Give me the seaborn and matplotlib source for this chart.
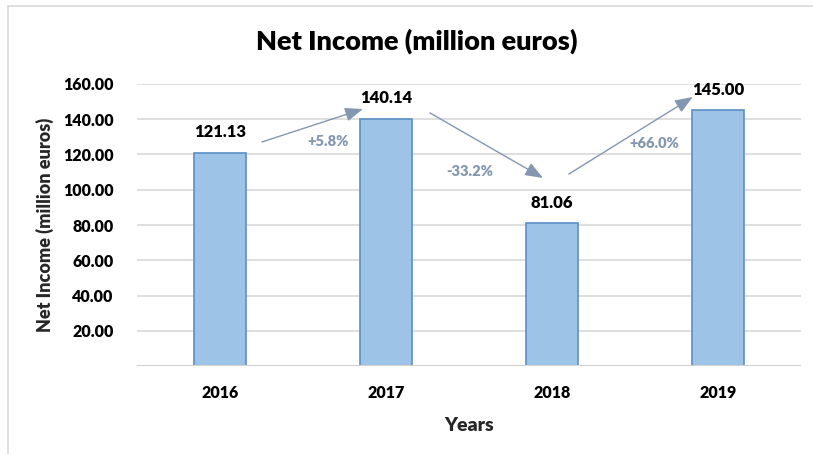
import matplotlib
matplotlib.use("Agg")
import matplotlib.pyplot as plt
from matplotlib.lines import Line2D
import seaborn as sns
import pandas as pd

years = ["2016", "2017", "2018", "2019"]
net_income = [121.13, 140.14, 81.06, 145.00]
changes = ["+5.8%", "-33.2%", "+66.0%"]
y_ticks = [20, 40, 60, 80, 100, 120, 140, 160]

sns.set_theme(style="white")
plt.rcParams["font.family"] = ["Lato", "DejaVu Sans"]

df = pd.DataFrame({"Year": years, "Income": net_income})

fig = plt.figure(figsize=(8.13, 4.54), dpi=100)
ax = fig.add_axes([0.1685, 0.1938, 0.8165, 0.6212])

sns.barplot(data=df, x="Year", y="Income", color="#9DC3E6", saturation=1,
            edgecolor="#5B8FC7", linewidth=1.2, width=0.315, ax=ax, zorder=3)

ax.set_ylim(0, 160)
ax.set_xlim(-0.5, 3.5)
ax.set_yticks(y_ticks)
ax.set_yticklabels([f"{v:.2f}" for v in y_ticks])
for v in y_ticks:
    ax.axhline(v, color="#D9D9D9", lw=1.2, zorder=0)
ax.axhline(0, color="#D0D0D0", lw=1.5, zorder=4)
for s in ax.spines.values():
    s.set_visible(False)
ax.tick_params(axis="y", length=0, labelsize=11.5, colors="#000000", pad=17)
ax.tick_params(axis="x", length=0, labelsize=11.5, colors="#000000", pad=14)
for lab in ax.get_xticklabels() + ax.get_yticklabels():
    lab.set_fontweight("heavy")

ax.set_xlabel("Years", fontsize=14, fontweight="heavy", labelpad=11)
ax.set_ylabel("Net Income (million euros)", fontsize=13, fontweight="heavy", labelpad=6)

# value labels above each bar
for i, v in enumerate(net_income):
    ax.annotate(f"{v:.2f}", (i, v), xytext=(0, 9), textcoords="offset points",
                ha="center", va="bottom", fontsize=12, fontweight="heavy", color="#000000")

# growth arrows between consecutive years
arrow_col = "#8497B0"
arrows = [((0.253, 127.1), (0.861, 145.8)),
          ((1.265, 143.6), (1.946, 106.7)),
          ((2.102, 108.9), (2.849, 152.6))]
label_pos = [(0.651, 127.1), (1.506, 110.6), (2.614, 126.5)]
for (start, end), txt, pos in zip(arrows, changes, label_pos):
    ax.annotate("", xy=end, xytext=start,
                arrowprops=dict(arrowstyle="-|>,head_length=0.9,head_width=0.35",
                                color=arrow_col, lw=1, shrinkA=0, shrinkB=0))
    ax.text(pos[0], pos[1], txt, ha="center", va="center", fontsize=10.5,
            fontweight="heavy", color=arrow_col)

fig.text(0.513, 0.91, "Net Income (million euros)", ha="center", va="center",
         fontsize=19.5, fontweight="heavy", color="#000000")

# chart frame
fig.add_artist(Line2D([0.0098, 0.0098], [0, 0.987], transform=fig.transFigure,
                      color="#D9D9D9", lw=1.2))
fig.add_artist(Line2D([0.0098, 1.0], [0.987, 0.987], transform=fig.transFigure,
                      color="#D9D9D9", lw=1.2))

fig.savefig("out.png", dpi=100)
